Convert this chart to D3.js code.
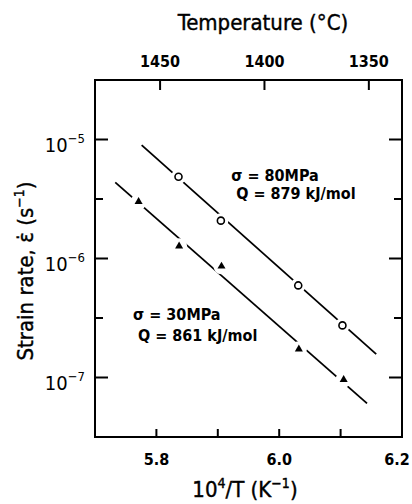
<!DOCTYPE html>
<html>
<head>
<meta charset="utf-8">
<script src="https://cdn.jsdelivr.net/npm/d3@7"></script>
<style>
  body { margin: 0; background: #fff; }
  text { font-family: "DejaVu Sans Condensed", "DejaVu Sans", sans-serif; fill: #000; }
  .title { stroke: #000; stroke-width: 0.4; }
</style>
</head>
<body>
<div id="chart"></div>
<script>
// 10^4/T (K^-1) and strain rate (s^-1)
const invT80 = [5.836, 5.905, 6.031, 6.103];
const rate80 = [4.86e-6, 2.08e-6, 5.94e-7, 2.74e-7];
const invT30 = [5.771, 5.837, 5.906, 6.032, 6.105];
const rate30 = [3.0e-6, 1.27e-6, 8.6e-7, 1.73e-7, 9.6e-8];

// fitted lines, end points
const fitX80 = [5.776, 6.158];
const fitY80 = [8.97e-6, 1.57e-7];
const fitX30 = [5.733, 6.143];
const fitY30 = [4.36e-6, 6.06e-8];

// axis ticks
const xTicks = [5.8, 5.9, 6.0, 6.1];
const xLabels = [5.8, 6.0, 6.2];
const yMajor = [-5, -6, -7];      // exponents
const yMinor = [-5.5, -6.5];
const tempTicks = [1450, 1400, 1350];
const tempAt = [5.806, 6.146];   // where 1450 and 1350 sit on the 10^4/T axis

(function() {
    const width = 412, height = 504;
    const marginTop = 80, marginRight = 10, marginBottom = 67, marginLeft = 95;

    const x = d3.scaleLinear([5.7, 6.2], [marginLeft, width - marginRight]);
    const y = d3.scaleLog([Math.pow(10, -7.5), Math.pow(10, -4.5)], [height - marginBottom, marginTop]);
    const tempScale = d3.scaleLinear([1450, 1350], tempAt);

    const svg = d3.select("#chart").append("svg")
        .attr("width", width)
        .attr("height", height)
        .attr("viewBox", [0, 0, width, height]);

    const x0 = x.range()[0], x1 = x.range()[1];
    const yb = y.range()[0], yt = y.range()[1];

    // frame
    svg.append("rect")
        .attr("x", x0).attr("y", yt)
        .attr("width", x1 - x0).attr("height", yb - yt)
        .attr("fill", "none")
        .attr("stroke", "#000")
        .attr("stroke-width", 2);

    // left and right ticks
    const yTicks = yMajor.map(e => ({e, len: 13})).concat(yMinor.map(e => ({e, len: 8})));
    svg.append("g")
        .selectAll("line")
        .data(yTicks.flatMap(t => [{...t, side: 0}, {...t, side: 1}]))
        .join("line")
          .attr("x1", d => d.side ? x1 : x0)
          .attr("x2", d => d.side ? x1 - d.len : x0 + d.len)
          .attr("y1", d => y(Math.pow(10, d.e)))
          .attr("y2", d => y(Math.pow(10, d.e)))
          .attr("stroke", "#000")
          .attr("stroke-width", 2);

    // y tick labels 10^n
    const yl = svg.append("g")
        .selectAll("text")
        .data(yMajor)
        .join("text")
          .attr("x", x0 - 10)
          .attr("y", d => y(Math.pow(10, d)) + 12)
          .attr("text-anchor", "end")
          .attr("font-size", 20);
    yl.append("tspan").text("10");
    yl.append("tspan")
        .attr("font-size", 13)
        .attr("dy", -9)
        .text(d => "\u2212" + (-d));

    // bottom ticks
    svg.append("g")
        .selectAll("line")
        .data(xTicks)
        .join("line")
          .attr("x1", d => x(d)).attr("x2", d => x(d))
          .attr("y1", yb).attr("y2", yb - 8)
          .attr("stroke", "#000")
          .attr("stroke-width", 2);

    svg.append("g")
        .selectAll("text")
        .data(xLabels)
        .join("text")
          .attr("x", d => Math.min(x(d), width - 15))
          .attr("y", yb + 28)
          .attr("text-anchor", "middle")
          .attr("font-size", 16)
          .attr("font-weight", "bold")
          .text(d => d3.format(".1f")(d));

    // top temperature ticks
    svg.append("g")
        .selectAll("line")
        .data(tempTicks)
        .join("line")
          .attr("x1", d => x(tempScale(d))).attr("x2", d => x(tempScale(d)))
          .attr("y1", yt).attr("y2", yt + 10)
          .attr("stroke", "#000")
          .attr("stroke-width", 2);

    svg.append("g")
        .selectAll("text")
        .data(tempTicks)
        .join("text")
          .attr("x", d => x(tempScale(d)))
          .attr("y", yt - 13)
          .attr("text-anchor", "middle")
          .attr("font-size", 16)
          .attr("font-weight", "bold")
          .text(d => d);

    // axis titles
    svg.append("text")
        .attr("class", "title")
        .attr("x", 263)
        .attr("y", 30)
        .attr("text-anchor", "middle")
        .attr("font-size", 22)
        .text("Temperature (\u00B0C)");

    const xt = svg.append("text")
        .attr("class", "title")
        .attr("x", 245)
        .attr("y", 497)
        .attr("text-anchor", "middle")
        .attr("font-size", 22);
    xt.append("tspan").text("10");
    xt.append("tspan").attr("font-size", 14).attr("dy", -9).text("4");
    xt.append("tspan").attr("dy", 9).text("/T (K");
    xt.append("tspan").attr("font-size", 14).attr("dy", -9).text("\u22121");
    xt.append("tspan").attr("dy", 9).text(")");

    const ytl = svg.append("text")
        .attr("class", "title")
        .attr("transform", "translate(33,271) rotate(-90)")
        .attr("text-anchor", "middle")
        .attr("font-size", 22);
    ytl.append("tspan").text("Strain rate, \u03B5\u0307 (s");
    ytl.append("tspan").attr("font-size", 14).attr("dy", -9).text("\u22121");
    ytl.append("tspan").attr("dy", 9).text(")");

    // fitted lines
    const line = d3.line().x(d => x(d[0])).y(d => y(d[1]));
    svg.append("g")
        .selectAll("path")
        .data([d3.zip(fitX80, fitY80), d3.zip(fitX30, fitY30)])
        .join("path")
          .attr("d", line)
          .attr("fill", "none")
          .attr("stroke", "#000")
          .attr("stroke-width", 1.8);

    // 80 MPa: open circles with white halo to break the line
    const pts80 = d3.zip(invT80, rate80);
    svg.append("g")
        .selectAll("circle")
        .data(pts80)
        .join("circle")
          .attr("cx", d => x(d[0]))
          .attr("cy", d => y(d[1]))
          .attr("r", 7.5)
          .attr("fill", "#fff");
    svg.append("g")
        .selectAll("circle")
        .data(pts80)
        .join("circle")
          .attr("cx", d => x(d[0]))
          .attr("cy", d => y(d[1]))
          .attr("r", 3.5)
          .attr("fill", "#fff")
          .attr("stroke", "#000")
          .attr("stroke-width", 1.6);

    // 30 MPa: filled triangles
    const pts30 = d3.zip(invT30, rate30);
    svg.append("g")
        .selectAll("circle")
        .data(pts30)
        .join("circle")
          .attr("cx", d => x(d[0]))
          .attr("cy", d => y(d[1]))
          .attr("r", 8)
          .attr("fill", "#fff");
    svg.append("g")
        .selectAll("path")
        .data(pts30)
        .join("path")
          .attr("transform", d => `translate(${x(d[0])},${y(d[1])})`)
          .attr("d", d3.symbol(d3.symbolTriangle, 28))
          .attr("fill", "#000");

    // annotations
    const ann = [
        {t: "\u03C3 = 80MPa", x: 5.922, y: Math.pow(10, -5.35)},
        {t: "Q = 879 kJ/mol", x: 5.930, y: Math.pow(10, -5.5)},
        {t: "\u03C3 = 30MPa", x: 5.762, y: Math.pow(10, -6.52)},
        {t: "Q = 861 kJ/mol", x: 5.770, y: Math.pow(10, -6.69)}
    ];
    svg.append("g")
        .selectAll("text")
        .data(ann)
        .join("text")
          .attr("x", d => x(d.x))
          .attr("y", d => y(d.y))
          .attr("font-size", 16)
          .attr("font-weight", "bold")
          .text(d => d.t);
})();
</script>
</body>
</html>
